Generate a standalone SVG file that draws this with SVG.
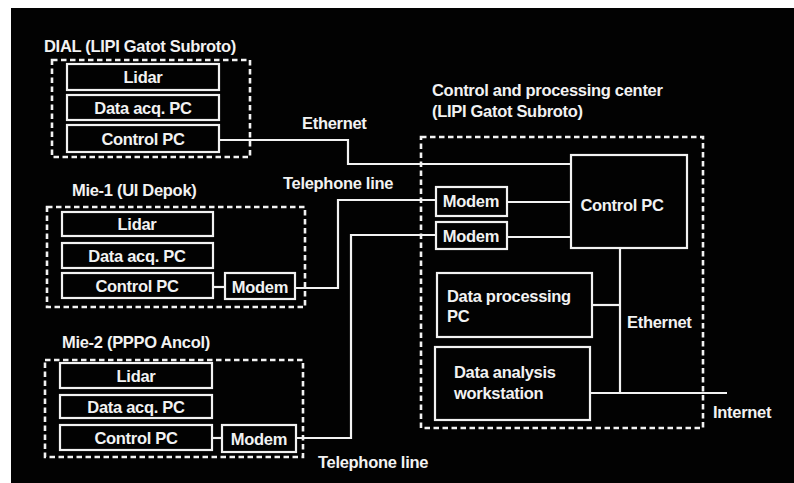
<svg xmlns="http://www.w3.org/2000/svg" width="794" height="483" viewBox="0 0 794 483">
<defs>
<style>
.bg{fill:#020202}
.box{fill:none;stroke:#f2f2f2;stroke-width:2.2}
.dash{fill:none;stroke:#f2f2f2;stroke-width:2.6;stroke-dasharray:5.5 3.5}
.ln{fill:none;stroke:#f2f2f2;stroke-width:2.2}
text{font-family:"Liberation Sans",Arial,sans-serif;font-weight:bold;font-size:16.5px;fill:#f2f2f2;letter-spacing:-0.3px}
.c{text-anchor:middle}
</style>
</defs>
<rect x="0" y="0" width="794" height="483" fill="#ffffff"/>
<rect class="bg" x="11" y="8" width="783" height="475"/>

<g id="connectors">
<polyline class="ln" points="219,140 348,140 348,164 571,164"/>
<line class="ln" x1="213" y1="287" x2="225" y2="287"/>
<polyline class="ln" points="295,288 338,288 338,200 436,200"/>
<line class="ln" x1="212" y1="438" x2="222" y2="438"/>
<polyline class="ln" points="296,438 351,438 351,235 436,235"/>
<line class="ln" x1="507" y1="202" x2="571" y2="202"/>
<line class="ln" x1="507" y1="237" x2="571" y2="237"/>
<line class="ln" x1="620" y1="248" x2="620" y2="393"/>
<line class="ln" x1="592" y1="305" x2="620" y2="305"/>
<line class="ln" x1="590" y1="393" x2="727" y2="393"/>
<text x="302" y="129">Ethernet</text>
<text x="283" y="189">Telephone line</text>
<text x="318" y="468">Telephone line</text>
<text x="627" y="328">Ethernet</text>
<text x="713" y="418">Internet</text>
</g>

<g id="dial">
<text x="44" y="52">DIAL (LIPI Gatot Subroto)</text>
<rect class="dash" x="52" y="60" width="198" height="97"/>
<rect class="box" x="67" y="64" width="152" height="26"/>
<text class="c" x="143" y="83">Lidar</text>
<rect class="box" x="67" y="95" width="152" height="25"/>
<text class="c" x="143" y="114">Data acq. PC</text>
<rect class="box" x="67" y="125" width="152" height="27"/>
<text class="c" x="143" y="145">Control PC</text>
</g>

<g id="mie1">
<text x="72" y="196">Mie-1 (UI Depok)</text>
<rect class="dash" x="47" y="207" width="258" height="100"/>
<rect class="box" x="62" y="212" width="151" height="24"/>
<text class="c" x="137" y="230">Lidar</text>
<rect class="box" x="62" y="243" width="151" height="25"/>
<text class="c" x="137" y="262">Data acq. PC</text>
<rect class="box" x="62" y="273" width="151" height="25"/>
<text class="c" x="137" y="292">Control PC</text>
<rect class="box" x="225" y="273" width="70" height="26"/>
<text class="c" x="260" y="293">Modem</text>
</g>

<g id="mie2">
<text x="62" y="348">Mie-2 (PPPO Ancol)</text>
<rect class="dash" x="45" y="360" width="258" height="97"/>
<rect class="box" x="60" y="363" width="152" height="25"/>
<text class="c" x="136" y="382">Lidar</text>
<rect class="box" x="60" y="395" width="152" height="23"/>
<text class="c" x="136" y="413">Data acq. PC</text>
<rect class="box" x="60" y="425" width="152" height="25"/>
<text class="c" x="136" y="444">Control PC</text>
<rect class="box" x="222" y="425" width="74" height="27"/>
<text class="c" x="259" y="445">Modem</text>
</g>

<g id="center">
<text x="432" y="96">Control and processing center</text>
<text x="432" y="117">(LIPI Gatot Subroto)</text>
<rect class="dash" x="421" y="137" width="282" height="291"/>
<rect class="box" x="571" y="155" width="116" height="93"/>
<text class="c" x="622" y="211">Control PC</text>
<rect class="box" x="436" y="187" width="71" height="29"/>
<text class="c" x="471" y="207">Modem</text>
<rect class="box" x="436" y="222" width="71" height="27"/>
<text class="c" x="471" y="242">Modem</text>
<rect class="box" x="437" y="273" width="155" height="64"/>
<text x="447" y="302">Data processing</text>
<text x="447" y="322">PC</text>
<rect class="box" x="435" y="347" width="155" height="73"/>
<text x="454" y="378">Data analysis</text>
<text x="454" y="399">workstation</text>
</g>
</svg>
